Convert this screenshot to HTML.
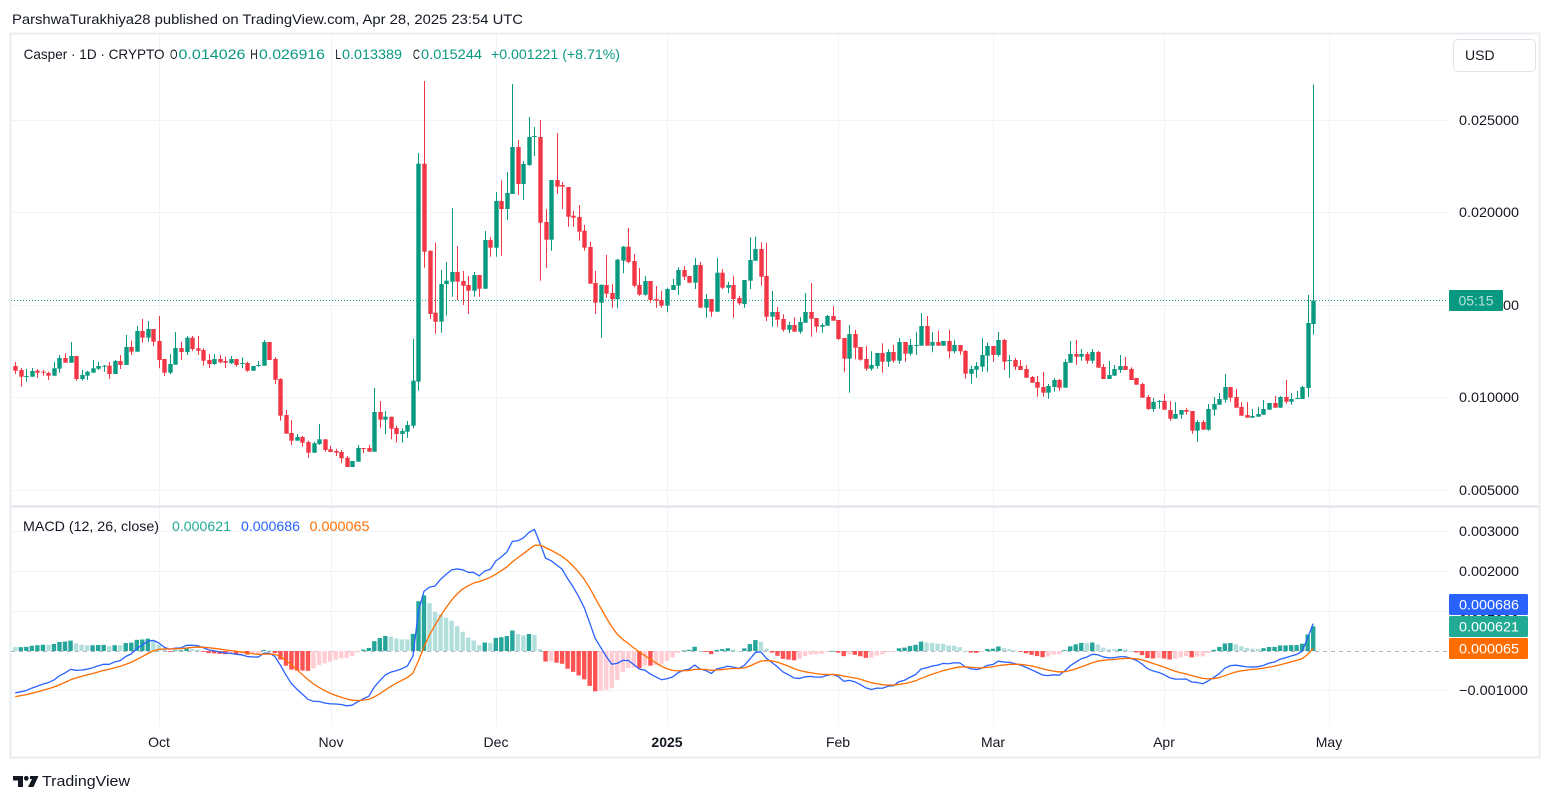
<!DOCTYPE html>
<html><head><meta charset="utf-8"><style>
html,body{margin:0;padding:0;background:#fff;width:1553px;height:803px;overflow:hidden}
svg{display:block;font-family:"Liberation Sans",Arial,sans-serif}
</style></head><body>
<svg id="c" width="1553" height="803" viewBox="0 0 1553 803" xmlns="http://www.w3.org/2000/svg">
<rect width="1553" height="803" fill="#fff"/>
<text x="12" y="24" font-size="14" fill="#131722" textLength="511" lengthAdjust="spacingAndGlyphs">ParshwaTurakhiya28 published on TradingView.com, Apr 28, 2025 23:54 UTC</text>
<g id="grid" stroke="#f0f3fa" stroke-width="1">
<line x1="11" x2="1448" y1="120.5" y2="120.5"/><line x1="11" x2="1448" y1="212.5" y2="212.5"/><line x1="11" x2="1448" y1="305.5" y2="305.5"/><line x1="11" x2="1448" y1="397.5" y2="397.5"/><line x1="11" x2="1448" y1="490.5" y2="490.5"/>
<line x1="11" x2="1448" y1="531.5" y2="531.5"/><line x1="11" x2="1448" y1="571.5" y2="571.5"/><line x1="11" x2="1448" y1="611.5" y2="611.5"/><line x1="11" x2="1448" y1="690.5" y2="690.5"/>
<line x1="159.5" x2="159.5" y1="34" y2="726"/><line x1="331.5" x2="331.5" y1="34" y2="726"/><line x1="496.5" x2="496.5" y1="34" y2="726"/><line x1="667.5" x2="667.5" y1="34" y2="726"/><line x1="838.5" x2="838.5" y1="34" y2="726"/><line x1="993.5" x2="993.5" y1="34" y2="726"/><line x1="1164.5" x2="1164.5" y1="34" y2="726"/><line x1="1329.5" x2="1329.5" y1="34" y2="726"/>
</g>
<rect x="10.5" y="33.5" width="1529" height="724" fill="none" stroke="#e9ecf1" stroke-width="2"/>
<line x1="11" x2="1539" y1="506.5" y2="506.5" stroke="#e0e3eb" stroke-width="2"/>
<line x1="11" x2="1448" y1="651.5" y2="651.5" stroke="#b2b5be" stroke-width="1" stroke-dasharray="4 4"/>
<line x1="11" x2="1448" y1="300.5" y2="300.5" stroke="#089981" stroke-width="1" stroke-dasharray="1 2"/>
<g id="cand"></g>
<g id="macd"></g>
<!-- legend -->
<text y="59" font-size="14" fill="#131722" x="23.6" textLength="141" lengthAdjust="spacingAndGlyphs">Casper · 1D · CRYPTO</text>
<text y="59" font-size="14" fill="#131722" x="170" textLength="7.5" lengthAdjust="spacingAndGlyphs">O</text>
<text y="59" font-size="14" fill="#089981" x="178.5" textLength="67" lengthAdjust="spacingAndGlyphs">0.014026</text>
<text y="59" font-size="14" fill="#131722" x="250.2" textLength="7.5" lengthAdjust="spacingAndGlyphs">H</text>
<text y="59" font-size="14" fill="#089981" x="259" textLength="66" lengthAdjust="spacingAndGlyphs">0.026916</text>
<text y="59" font-size="14" fill="#131722" x="335.3" textLength="5.8" lengthAdjust="spacingAndGlyphs">L</text>
<text y="59" font-size="14" fill="#089981" x="342" textLength="60" lengthAdjust="spacingAndGlyphs">0.013389</text>
<text y="59" font-size="14" fill="#131722" x="412.9" textLength="7" lengthAdjust="spacingAndGlyphs">C</text>
<text y="59" font-size="14" fill="#089981" x="421" textLength="61" lengthAdjust="spacingAndGlyphs">0.015244</text>
<text y="59" font-size="14" fill="#089981" x="491" textLength="129" lengthAdjust="spacingAndGlyphs">+0.001221 (+8.71%)</text>
<text y="531" font-size="14" fill="#131722" x="23" textLength="136" lengthAdjust="spacingAndGlyphs">MACD (12, 26, close)</text>
<text y="531" font-size="14" fill="#22ab94" x="172" textLength="59" lengthAdjust="spacingAndGlyphs">0.000621</text>
<text y="531" font-size="14" fill="#2962ff" x="241" textLength="59" lengthAdjust="spacingAndGlyphs">0.000686</text>
<text y="531" font-size="14" fill="#ff6d00" x="309.5" textLength="60" lengthAdjust="spacingAndGlyphs">0.000065</text>
<!-- USD -->
<rect x="1453.5" y="39.5" width="82" height="32" rx="4" fill="#fff" stroke="#e0e3eb"/>
<text x="1465" y="60" font-size="14" fill="#131722">USD</text>
<!-- price axis -->
<g font-size="14" fill="#131722">
<text x="1459" y="125" textLength="60" lengthAdjust="spacingAndGlyphs">0.025000</text>
<text x="1459" y="217" textLength="60" lengthAdjust="spacingAndGlyphs">0.020000</text>
<text x="1459" y="310" textLength="60" lengthAdjust="spacingAndGlyphs">0.015000</text>
<text x="1459" y="402" textLength="60" lengthAdjust="spacingAndGlyphs">0.010000</text>
<text x="1459" y="495" textLength="60" lengthAdjust="spacingAndGlyphs">0.005000</text>
<text x="1459" y="536" textLength="60" lengthAdjust="spacingAndGlyphs">0.003000</text>
<text x="1459" y="576" textLength="60" lengthAdjust="spacingAndGlyphs">0.002000</text>
<text x="1459" y="616" textLength="60" lengthAdjust="spacingAndGlyphs">0.001000</text>
<text x="1459" y="695" textLength="69" lengthAdjust="spacingAndGlyphs">−0.001000</text>
</g>
<rect x="1449" y="290" width="54" height="21" rx="1" fill="#089981"/>
<text x="1476" y="305.5" font-size="14" fill="#ffffff" fill-opacity="0.7" text-anchor="middle">05:15</text>
<rect x="1449" y="594" width="79" height="21" rx="1.5" fill="#2962ff"/>
<text x="1459" y="609.5" font-size="14" fill="#fff" textLength="60" lengthAdjust="spacingAndGlyphs">0.000686</text>
<rect x="1449" y="616" width="79" height="21" rx="1.5" fill="#22ab94"/>
<text x="1459" y="631.5" font-size="14" fill="#fff" textLength="60" lengthAdjust="spacingAndGlyphs">0.000621</text>
<rect x="1449" y="638" width="79" height="21" rx="1.5" fill="#ff6d00"/>
<text x="1459" y="653.5" font-size="14" fill="#fff" textLength="60" lengthAdjust="spacingAndGlyphs">0.000065</text>
<!-- time axis -->
<g font-size="14" fill="#131722" text-anchor="middle">
<text x="159" y="747">Oct</text><text x="331" y="747">Nov</text><text x="496" y="747">Dec</text>
<text x="667" y="747" font-weight="bold">2025</text>
<text x="838" y="747">Feb</text><text x="993" y="747">Mar</text><text x="1164" y="747">Apr</text><text x="1329" y="747">May</text>
</g>
<!-- footer logo -->
<g fill="#131722">
<path d="M13 776 H23 V787 H18 V780.5 H13 Z"/>
<circle cx="26.3" cy="778.3" r="2.4"/>
<path d="M30 776 H38.5 L33.5 787 H28 L32 779 H30 Z"/>
</g>
<text x="42" y="786" font-size="15" fill="#131722" textLength="88" lengthAdjust="spacingAndGlyphs">TradingView</text>
</svg>
<script>
(function(){
var D=[
[366,362,374,370.7],[370,368,386.7,376.7],[376.5,369,381.7,376],[376.7,368,376.7,371],[370.7,369,377.7,372.7],
[371.7,370,375.7,372.3],[373,371.7,380,375.7],[375.7,361.7,375.7,368.3],[368.7,355,372.7,358],[358,353.3,362.7,362.7],
[362.7,342,362.7,356],[356,356,380.7,379],[379,370,380.7,375],[375.7,370.7,380,371.7],[372.7,360,372.7,368.3],
[368.7,361.7,370,366],[366.3,365,371.7,365.7],[365.7,361.7,379,374],[374,360,374,361],[361,355,369,365],
[365,335,365,347],[347,340.7,355,351.7],[351.7,326,351.7,331],[331,319,342.7,337.7],[337.7,321,341.7,329],
[329,329,346,341.7],[341,316,368.3,360],[359,359,376,372.7],[372.7,354,374,364],[364.7,332,364.7,348],
[348,341.7,360,352],[352,336,355,337.7],[337.7,336,351,349],[348.3,336,355,350.7],[350,348.3,365.7,360.7],
[360,354,368,364],[364,354,365,359],[359,355,363.3,362.3],[361,356.7,368,362.7],[363.3,356,364,359],
[359,359,366.7,365],[363.3,357.3,368.3,363],[363,361.7,371.7,370.7],[370.7,366,370.7,366],[366,361,366.7,365],
[365.7,340,365.7,342],[342,342,360,360],[359,357.3,384,379.7],[379,378.3,420.7,415.7],[415,410,433.7,433.7],
[433,420,445,440.7],[440.7,434,440.7,437],[437,436,446.7,442.7],[442,440.7,457.7,452.7],[452.7,441.7,452.7,443.3],
[444,424,445,439.3],[439.3,439.3,451.7,450],[449.3,445.7,452,452],[451,448.7,456,452.7],[452,450,463.3,458.3],
[457.7,456,467,467],[467,461,467,461],[461.7,445,461.7,448],[448,448,453.3,449],[448,445,451.7,451.7],
[451.7,388,451.7,412],[412,401,428.3,419.7],[419.7,411,434.3,416.7],[416.7,416.7,439.3,428.7],[428,425.7,442.7,434],
[434,428.3,442.7,431],[431.7,421,437.7,425],[425.7,339,428.3,380.7],[381.7,153,390.7,163.7],[163.7,81,267.7,251.7],
[250.7,250.7,319,314],[312.7,242.7,333.7,321.7],[321.7,270,332.7,284],[284,262,315.7,280.7],[281.7,208,296.7,272],
[272,246,300.3,281.7],[281,271,305,285.7],[285,276,314,290.7],[290.7,272,296.7,275],[275,275,296.7,288.7],
[288.7,231,288.7,240],[240,237,256.7,247.7],[247.7,192,256.7,201],[201,180.3,255.7,209],[209,172,220,193],
[194,84,194,147],[147,140,195,184],[184,161,200,164],[165,117,166,137],[137,127,156,136],
[137,120,280.7,222.7],[222,209,268,239.7],[239.7,180,250.7,180],[180,133,194,186.7],[185,182,209,186.7],
[187,187,226.7,216.7],[215.7,211,226.7,217.7],[217,205,240.7,231.7],[230.7,224.7,250.7,247.7],[247,241.7,283.7,283.7],
[283,271,314,302.7],[302.7,284.7,337.7,284.7],[285,255,297.7,293.7],[293,284,307.7,299.3],[299.3,258.7,308.3,259.7],
[260.7,246,273.3,246.7],[246.7,228,263.3,262],[261,254,287.3,285.7],[285,268,295.7,294.7],[294.7,276,295.7,281],
[281,281,302.7,300],[299,286,307.7,300.7],[300,291,307.7,305.7],[305.7,287.7,312.3,289],[290,279,290,285],
[285.7,267.3,295,270],[270,266,280,276.7],[276,276,283.3,282.7],[282.7,258,289,265],[265,261.7,307.7,307.7],
[307.7,294,317.7,299],[299,299,316.7,311.7],[311.7,258,311.7,272.7],[272.7,269,289,287.7],[287.7,281.7,293.3,285],
[285,275.7,317.7,299],[298,295.7,305,303.3],[304,280,307.7,280],[280.7,237.3,289,260],[260.7,236.7,260.7,249],
[249,242.3,285.7,276.7],[276,243,321,316.7],[316.7,291,326.7,312],[312,307,326.7,319.7],[319,314.3,331.7,329.7],
[329.7,322,333.3,325],[325,317.3,331.7,331.7],[331.7,317.3,333.7,322],[322.7,293,322.7,312],[312,283,336.7,318.7],
[318,318,332.3,326.7],[326.7,323.3,332.7,325],[325.7,315,325.7,316],[316,306,320.7,320.7],[320,320,340,339],
[338,338,371.7,358.7],[358.7,325,392.7,334],[334,329.7,359.3,347.7],[347,347,360.7,359.7],[359,346,370.7,368.7],
[368.7,351.3,370.7,365],[366,353,368.7,353],[353,343.3,372.7,361.7],[361.7,349.3,366.7,352],[352,345,362.7,360.7],
[360.7,338,363.7,342],[342,342,361.7,353.7],[353.7,339,355.7,345],[345.7,331.7,355,345],[345.7,313,345.7,326],
[326,316,345.7,345.7],[345.7,332,352.3,342],[342,330.7,345.7,345.7],[345.7,341,345.7,341],[341,329.7,358.3,351.3],
[351.3,339.7,353.3,345],[345,345,354.7,351.3],[351,350,378.7,373.7],[373.7,365.7,383.7,369],[369.7,362,377.7,366],
[366.7,338,371.7,355],[355.7,342.7,371.7,346],[346,346,361.7,355],[355,332,356.7,340],[340,339,370,361.7],
[361,355,377.7,360],[360,358,370,366.7],[366,360,370,370],[369,365,377.7,377.7],[377,376,382.7,382.7],
[382,376,396.7,387.7],[387,372,396.7,392.7],[392.7,384,398.7,386],[387,378.3,391.7,380],[380,379,390.7,387.7],
[387.7,359,387.7,362],[362.7,341,362.7,354],[354,340,365,356.7],[356.7,349,360.7,354],[354,352,363.7,360.7],
[360.7,349,363.7,352],[352,351,367.7,367.7],[367,364,379,379],[379,361,379,375],[375.7,365,375.7,369],
[370,355,372.7,366],[366,357,370,370],[369,367.3,380,380],[378,378,384.7,384.7],[384,382.7,397.7,397.7],
[397,395,410,409],[409,398,411.7,402],[402,400,408.7,401],[401,394,409.7,409.7],[410,401,420.7,418.7],
[418.7,402,418.7,414],[414.7,410,418.7,410],[410,407.7,414.7,411.7],[411,411,433.7,430.7],[430.7,420,441.7,422],
[422,420,429.7,429.7],[429.7,404,430.7,409],[409.7,397,415.7,404],[404.7,393,404.7,399],[399.7,374,402.7,387],
[387,387,401.7,397.7],[397,389,407.7,407.7],[407,402,415.7,415.7],[415,402,417.7,417.7],[417.7,409,417.7,416],
[416.7,407,416.7,414],[414.7,400,414.7,409],[409.7,403,409.7,403],[403,396,407.7,407.7],[407.7,396,407.7,397],
[397,380,403.7,401.7],[401.7,393,404.7,399],[399,391,399,398],[399,386,399,387],[388,295,397,323],
[324,84.6,334.8,300.5]
];
var X0=15.3,DX=5.523;
var s='';
for(var i=0;i<D.length;i++){
 var d=D[i],x=X0+i*DX,o=d[0],h=d[1],l=d[2],c=d[3];
 var up=c<=o,col=up?'#089981':'#f23645';
 var wx=Math.round(x)+0.5;
 s+='<line x1="'+wx+'" x2="'+wx+'" y1="'+h+'" y2="'+l+'" stroke="'+col+'" stroke-width="1"/>';
 var top=Math.min(o,c),bh=Math.max(1,Math.abs(o-c));
 s+='<rect x="'+(wx-2.2).toFixed(2)+'" y="'+top+'" width="4.4" height="'+bh.toFixed(2)+'" fill="'+col+'"/>';
}
document.getElementById('cand').innerHTML=s;
var P=D.map(function(d){return (582.5-d[3])/18500;});
var e12=P[0]+0.0004,e26=P[0]+0.0015,sig=-0.00117;
var a12=2/13,a26=2/27,a9=2/10;
var M=[],S=[],H=[];
for(var i=0;i<P.length;i++){
 var p=P[i];
 e12+=a12*(p-e12);e26+=a26*(p-e26);
 var m=e12-e26;sig+=a9*(m-sig);
 M.push(m);S.push(sig);H.push(m-sig);
}
function Y(v){return 651-v*39800;}
var t='<clipPath id="mc"><rect x="11" y="508" width="1437" height="218"/></clipPath><g clip-path="url(#mc)">';
for(var i=0;i<H.length;i++){
 var x=X0+i*DX,hv=H[i],pv=i>0?H[i-1]:hv,col;
 if(hv>=0){col=(hv>pv)?'#26a69a':'#b2dfdb';}else{col=(hv<pv)?'#ff5252':'#ffcdd2';}
 var y1=Y(hv),top=Math.min(y1,651),hh=Math.max(0.8,Math.abs(y1-651));
 t+='<rect x="'+(x-2.2).toFixed(2)+'" y="'+top.toFixed(2)+'" width="4.4" height="'+hh.toFixed(2)+'" fill="'+col+'"/>';
}
var pm='',ps='';
for(var i=0;i<M.length;i++){var x=(X0+i*DX).toFixed(2);pm+=(i?'L':'M')+x+' '+Y(M[i]).toFixed(2);ps+=(i?'L':'M')+x+' '+Y(S[i]).toFixed(2);}
t+='<path d="'+pm+'" fill="none" stroke="#2962ff" stroke-width="1.3" stroke-linejoin="round"/>';
t+='<path d="'+ps+'" fill="none" stroke="#ff6d00" stroke-width="1.3" stroke-linejoin="round"/>';
t+='</g>';
document.getElementById('macd').innerHTML=t;
})();
</script>
</body></html>
